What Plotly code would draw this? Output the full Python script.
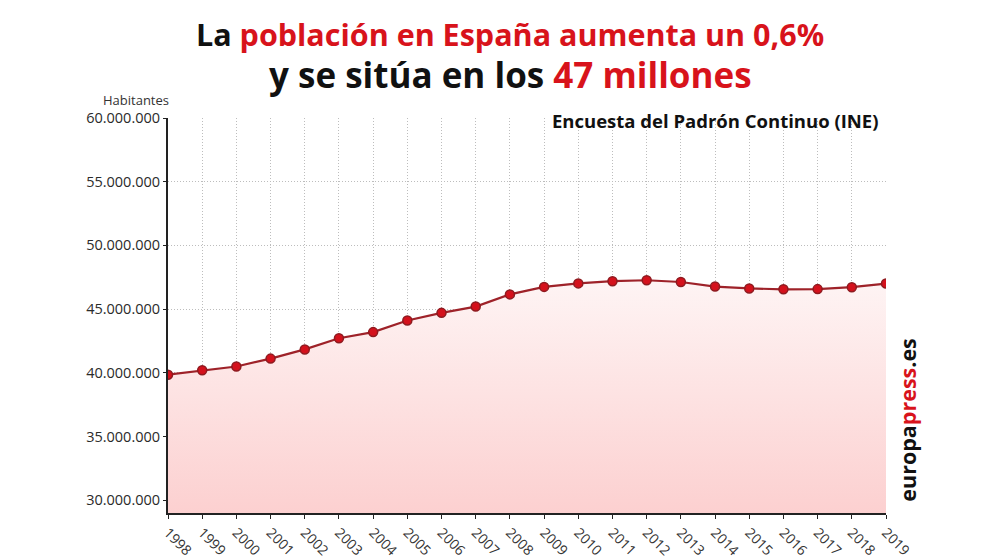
import plotly.graph_objects as go

years = list(range(1998, 2020))
population = [39852651, 40202160, 40499791, 41116842, 41837894, 42717064, 43197684,
              44108530, 44708964, 45200737, 46157822, 46745807, 47021031, 47190493,
              47265321, 47129783, 46771341, 46624382, 46557008, 46572132, 46722980,
              47007367]
y_ticks = [30000000, 35000000, 40000000, 45000000, 50000000, 55000000, 60000000]

# the page body has an 8px margin, so the figure is drawn 8px in from the corner
OFF = 8
W, H = 992 - OFF, 558 - OFF
L, T = 168 - OFF, 118 - OFF
R = W - (886 - OFF)
B = H - (513 - OFF)
plot_w = W - L - R
plot_h = H - T - B

def px_x(px):
    return (px - OFF - L) / plot_w

def px_y(py):
    return 1 + (T - (py - OFF)) / plot_h

fig = go.Figure()
fig.add_trace(go.Scatter(
    x=years, y=population, mode="lines+markers",
    line=dict(color="#9e2229", width=2.2),
    marker=dict(size=9, color="#d4111c", line=dict(color="#8e1a1f", width=1.5)),
    fill="tozeroy",
    fillgradient=dict(type="vertical", start=29000000, stop=47300000,
                      colorscale=[[0, "rgba(252,208,208,1)"], [1, "rgba(254,244,244,1)"]]),
    hoverinfo="skip",
))

grid = dict(showgrid=True, gridcolor="#bdbdbd", griddash="1px,2px", gridwidth=1)
fig.update_layout(
    width=W, height=H,
    margin=dict(l=L, r=R, t=T, b=B, autoexpand=False),
    paper_bgcolor="white", plot_bgcolor="white",
    separators=",.",
    showlegend=False,
    font=dict(family="Open Sans", color="#222"),
    xaxis=dict(
        range=[1998, 2019], tickmode="array", tickvals=years,
        ticktext=[str(y) for y in years], tickangle=45, automargin=False,
        tickfont=dict(size=14, color="#333"),
        showline=True, linecolor="#222", linewidth=2,
        ticks="outside", ticklen=4, tickcolor="#222", zeroline=False, **grid,
    ),
    yaxis=dict(
        range=[29000000, 60000000], tickmode="array", tickvals=y_ticks, automargin=False,
        tickformat=",d", tickfont=dict(size=14.5, color="#2a2a2a"),
        showline=True, linecolor="#222", linewidth=2,
        ticks="outside", ticklen=3, tickcolor="#222", zeroline=False, **grid,
    ),
)

annotations = [
    dict(x=px_x(510), y=px_y(34), xanchor="center", yanchor="middle",
         text="La <span style='color:#d8131b'>población en España aumenta un 0,6%</span>",
         font=dict(size=30.5, family="Open Sans", color="#111", weight="bold")),
    dict(x=px_x(510), y=px_y(74), xanchor="center", yanchor="middle",
         text="y se sitúa en los <span style='color:#d8131b'>47 millones</span>",
         font=dict(size=35, family="Open Sans", color="#111", weight="bold")),
    dict(x=0, y=1, xanchor="right", yanchor="middle",
         xshift=3, yshift=18, text="Habitantes",
         font=dict(size=13, family="Open Sans", color="#333")),
    dict(x=1, y=1, xanchor="right", yanchor="middle",
         xshift=-6, yshift=-2, text="<b>Encuesta del Padrón Continuo (INE)</b>",
         font=dict(size=18.5, family="Open Sans", color="#111")),
    dict(x=1, y=0.235, xanchor="left", yanchor="middle",
         xshift=5, textangle=-90,
         text="<b>europa<span style='color:#d8131b'>press</span>.es</b>",
         font=dict(size=21.5, family="Open Sans", color="#111")),
]
for a in annotations:
    a["xref"] = "paper"
    a["yref"] = "paper"
    a["showarrow"] = False
fig.update_layout(annotations=annotations)

fig.write_html("out.html")
